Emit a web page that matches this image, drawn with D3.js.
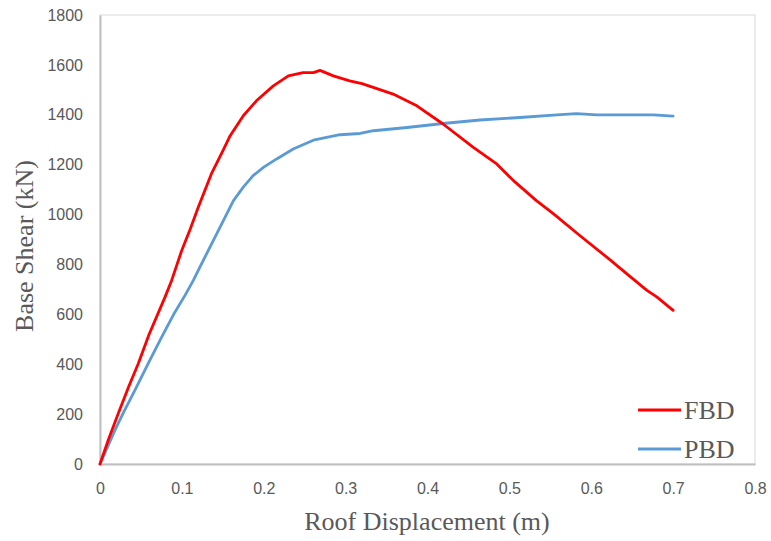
<!DOCTYPE html>
<html>
<head>
<meta charset="utf-8">
<script src="https://cdn.jsdelivr.net/npm/d3@7"></script>
<style>
  html, body { margin: 0; padding: 0; background: #fff; }
  svg { display: block; }
  .tick text { font-family: "Liberation Sans", Arial, sans-serif; font-size: 16px; fill: #595959; }
  .title { font-family: "Liberation Serif", "Times New Roman", serif; font-size: 26px; fill: #595959; }
</style>
</head>
<body>
<svg id="chart" width="771" height="541"></svg>
<script>
// Pushover curves: roof displacement (m) vs base shear (kN)
const fbdDisp = [0, 0.01, 0.0224, 0.035, 0.0468, 0.06, 0.0794, 0.0875, 0.0998, 0.11, 0.12, 0.136, 0.15, 0.159, 0.175, 0.191, 0.2117, 0.23, 0.248, 0.2606, 0.2687, 0.285, 0.305, 0.32, 0.34, 0.358, 0.387, 0.419, 0.456, 0.4845, 0.505, 0.533, 0.554, 0.586, 0.619, 0.645, 0.668, 0.68, 0.7];
const fbdShear = [0, 95, 203, 310, 403, 520, 669, 736, 856, 940, 1029, 1163, 1255, 1316, 1396, 1456, 1516, 1556, 1569, 1569, 1578, 1556, 1536, 1525, 1503, 1483, 1436, 1363, 1269, 1203, 1136, 1056, 1003, 916, 829, 758, 696, 670, 616];

const pbdDisp = [0, 0.0183, 0.03, 0.0427, 0.06, 0.0753, 0.09, 0.104, 0.114, 0.122, 0.1425, 0.163, 0.175, 0.187, 0.2, 0.2158, 0.236, 0.2606, 0.293, 0.3176, 0.334, 0.375, 0.419, 0.464, 0.513, 0.558, 0.582, 0.607, 0.676, 0.7];
const pbdShear = [0, 136, 215, 296, 410, 509, 600, 677, 736, 789, 923, 1056, 1110, 1156, 1190, 1223, 1263, 1298, 1320, 1325, 1336, 1349, 1365, 1379, 1389, 1400, 1405, 1400, 1400, 1395];

const xTicks = [0, 0.1, 0.2, 0.3, 0.4, 0.5, 0.6, 0.7, 0.8];
const yTicks = [0, 200, 400, 600, 800, 1000, 1200, 1400, 1600, 1800];

const seriesNames = ["FBD", "PBD"];
const seriesColors = ["#ff0000", "#5b9bd5"];

const margin = { top: 15, right: 16, bottom: 77, left: 100 };
const width = 771, height = 541;
const svg = d3.select("#chart");

const x = d3.scaleLinear().domain([0, 0.8]).range([margin.left, width - margin.right]);
const y = d3.scaleLinear().domain([0, 1800]).range([height - margin.bottom, margin.top]);

// plot-area outline
svg.append("rect")
  .attr("x", x(0)).attr("y", y(1800))
  .attr("width", x(0.8) - x(0)).attr("height", y(0) - y(1800))
  .attr("fill", "none").attr("stroke", "#d9d9d9").attr("stroke-width", 1);

const xAxis = svg.append("g")
  .attr("transform", `translate(0,${y(0)})`)
  .call(d3.axisBottom(x).tickValues(xTicks).tickSize(0).tickPadding(19).tickFormat(d3.format("")));
xAxis.select(".domain").attr("stroke", "#bfbfbf").attr("stroke-width", 2);

const yAxis = svg.append("g")
  .attr("transform", `translate(${x(0)},0)`)
  .call(d3.axisLeft(y).tickValues(yTicks).tickSize(0).tickPadding(17).tickFormat(d3.format("")));
yAxis.select(".domain").attr("stroke", "#bfbfbf").attr("stroke-width", 2);

const line = d3.line().x(d => x(d[0])).y(d => y(d[1]));
const series = [
  d3.zip(fbdDisp, fbdShear),
  d3.zip(pbdDisp, pbdShear)
];

// PBD under FBD
[1, 0].forEach(i => {
  svg.append("path")
    .datum(series[i])
    .attr("fill", "none")
    .attr("stroke", seriesColors[i])
    .attr("stroke-width", 2.8)
    .attr("stroke-linejoin", "round")
    .attr("stroke-linecap", "round")
    .attr("d", line);
});

// axis titles
svg.append("text").attr("class", "title")
  .attr("x", 427).attr("y", 530)
  .attr("text-anchor", "middle")
  .text("Roof Displacement (m)");

svg.append("text").attr("class", "title")
  .attr("transform", "translate(33,246) rotate(-90)")
  .attr("text-anchor", "middle")
  .text("Base Shear (kN)");

// legend
const legend = svg.append("g");
seriesNames.forEach((name, i) => {
  const ly = 410 + i * 39;
  legend.append("line")
    .attr("x1", 638).attr("x2", 681).attr("y1", ly).attr("y2", ly)
    .attr("stroke", seriesColors[i]).attr("stroke-width", 2.8);
  legend.append("text").attr("class", "title")
    .attr("x", 684).attr("y", ly + 9)
    .text(name);
});
</script>
</body>
</html>
